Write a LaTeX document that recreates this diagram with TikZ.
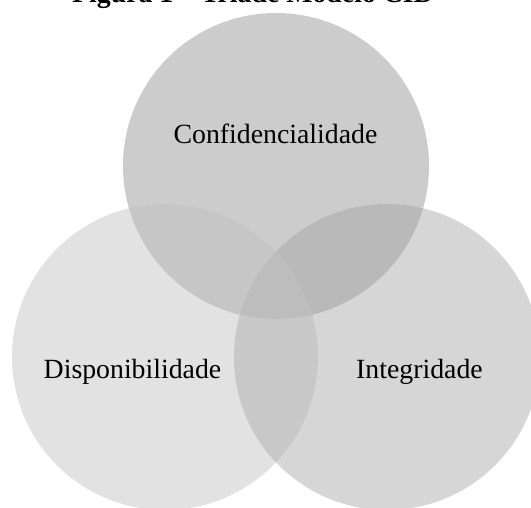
\documentclass[tikz,border=0pt]{standalone}
\usepackage{fontspec}
\setmainfont{Liberation Serif}
\begin{document}
\begin{tikzpicture}[x=1pt,y=-1pt,
  lbl/.style={font=\fontsize{27.8}{30}\selectfont, inner sep=0pt, anchor=base},
  ttl/.style={font=\fontsize{27.8}{30}\selectfont\bfseries, inner sep=0pt, anchor=base west}]
\useasboundingbox (0,0) rectangle (531,508);
\def\R{153}
\coordinate (ct) at (276,166);
\coordinate (cl) at (165,357);
\coordinate (cr) at (387,357);
% base circles
\fill[fill={rgb,255:red,204;green,204;blue,204}] (ct) circle (\R);
\fill[fill={rgb,255:red,226;green,226;blue,226}] (cl) circle (\R);
\fill[fill={rgb,255:red,214;green,214;blue,214}] (cr) circle (\R);
% overlaps
\begin{scope}
  \clip (ct) circle (\R);
  \fill[fill={rgb,255:red,198;green,198;blue,198}] (cl) circle (\R);
\end{scope}
\begin{scope}
  \clip (ct) circle (\R);
  \fill[fill={rgb,255:red,185;green,185;blue,185}] (cr) circle (\R);
\end{scope}
\begin{scope}
  \clip (cl) circle (\R);
  \fill[fill={rgb,255:red,200;green,200;blue,200}] (cr) circle (\R);
\end{scope}
\begin{scope}
  \clip (ct) circle (\R);
  \clip (cl) circle (\R);
  \fill[fill={rgb,255:red,189;green,189;blue,189}] (cr) circle (\R);
\end{scope}
% labels
\node[lbl] (conf) at (275.5,144) {Confidencialidade};
\node[lbl] (disp) at (132.5,378) {Disponibilidade};
\node[lbl] (integ) at (419.5,378) {Integridade};
% title (mostly above the visible area)
\node[ttl] (title) at (72,3) {Figura 1 – Tríade Modelo CID};
\end{tikzpicture}
\end{document}
